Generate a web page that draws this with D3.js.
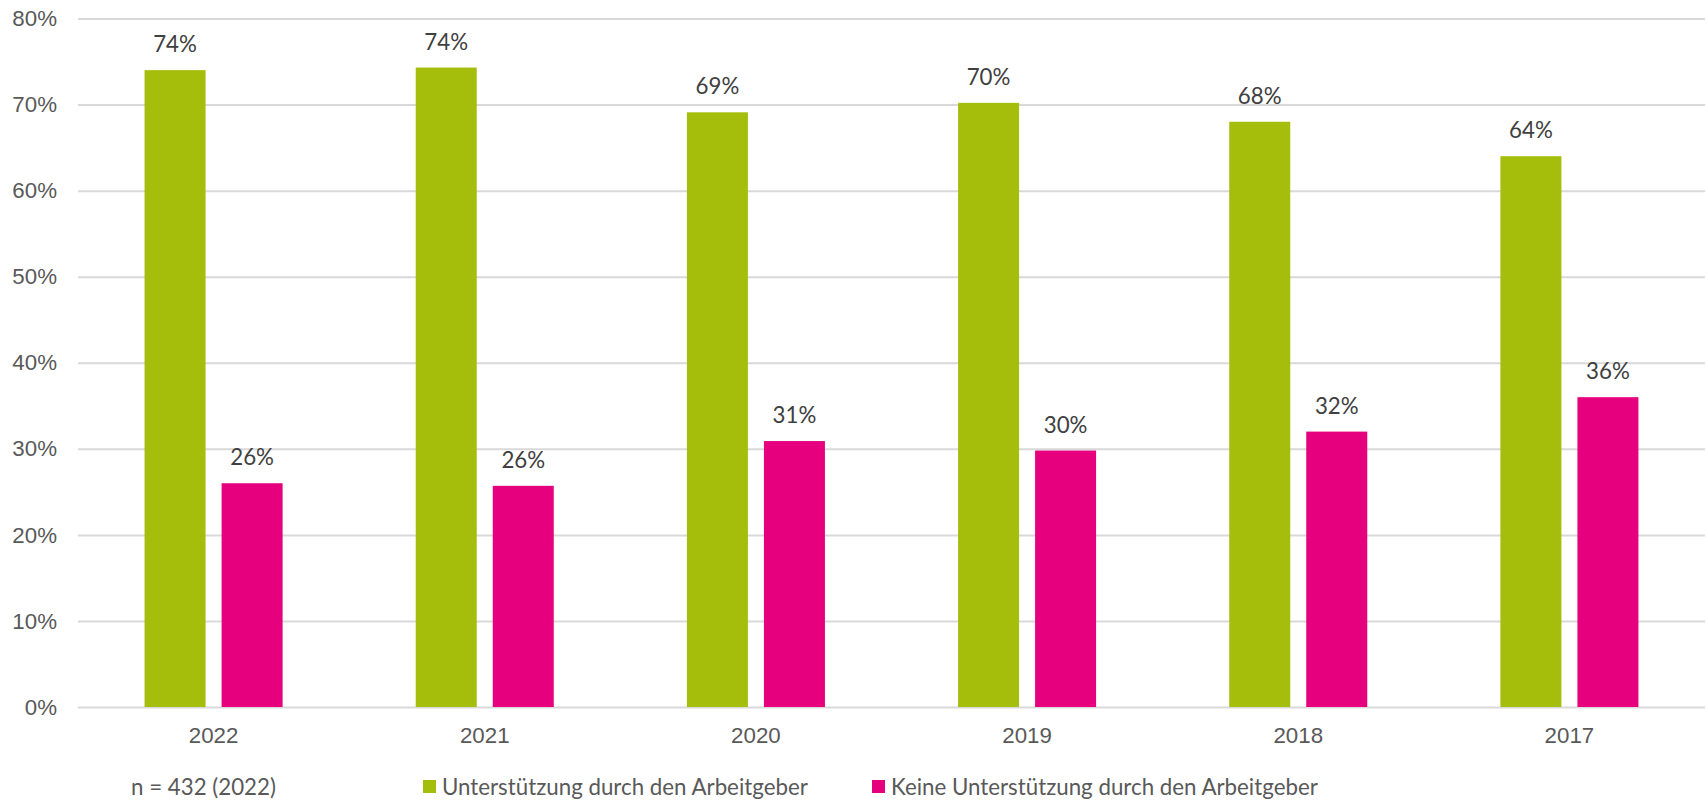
<!DOCTYPE html>
<html lang="de">
<head>
<meta charset="utf-8">
<script src="https://cdn.jsdelivr.net/npm/d3@7"></script>
<style>
  html, body { margin: 0; padding: 0; background: #fff; }
  svg { display: block; font-family: Lato, "Open Sans", sans-serif; }
</style>
</head>
<body>
<svg id="chart" width="1708" height="803"></svg>
<script>
// Survey years and shares (fraction of respondents)
const years = ["2022", "2021", "2020", "2019", "2018", "2017"];
const seriesNames = ["Unterstützung durch den Arbeitgeber", "Keine Unterstützung durch den Arbeitgeber"];
const supportShare = [0.740, 0.743, 0.691, 0.702, 0.680, 0.640];
const noSupportShare = [0.260, 0.257, 0.309, 0.298, 0.320, 0.360];
const yTicks = [0, 0.1, 0.2, 0.3, 0.4, 0.5, 0.6, 0.7, 0.8];
const sampleNote = "n = 432 (2022)";
const seriesColors = ["#a5bd0b", "#e6007e"];

const width = 1708, height = 803;
const margin = { top: 18.5, right: 3, bottom: 96, left: 78 };
const fontSize = "22.3px";
const svg = d3.select("#chart");

const x0 = d3.scaleBand()
  .domain(years)
  .range([margin.left, width - margin.right])
  .padding(0);

const step = x0.step();
const groupW = step * 0.509;
const x1 = d3.scaleBand()
  .domain(seriesNames)
  .range([(step - groupW) / 2, (step + groupW) / 2])
  .paddingInner(0.208)
  .paddingOuter(0);

const y = d3.scaleLinear()
  .domain([0, 0.8])
  .range([height - margin.bottom, margin.top]);

// Horizontal grid lines
const yAxis = d3.axisLeft(y)
  .tickValues(yTicks)
  .tickFormat(d3.format(".0%"))
  .tickSize(-(width - margin.left - margin.right))
  .tickPadding(21);

const gy = svg.append("g")
  .attr("transform", `translate(${margin.left},0)`)
  .call(yAxis);
gy.select(".domain").remove();
gy.selectAll(".tick line").attr("stroke", "#d9d9d9").attr("stroke-width", 2);
gy.selectAll(".tick text")
  .attr("fill", "#595959")
  .style("font-size", fontSize);

// Category axis labels
const xAxis = d3.axisBottom(x0).tickSize(0).tickPadding(20);
const gx = svg.append("g")
  .attr("transform", `translate(0,${height - margin.bottom})`)
  .call(xAxis);
gx.select(".domain").remove();
gx.selectAll(".tick text")
  .attr("fill", "#595959")
  .style("font-size", fontSize);

// Bars
const rows = years.map((yr, i) => ({
  year: yr,
  values: [
    { key: seriesNames[0], value: supportShare[i], color: seriesColors[0] },
    { key: seriesNames[1], value: noSupportShare[i], color: seriesColors[1] }
  ]
}));

const groups = svg.append("g")
  .selectAll("g")
  .data(rows)
  .join("g")
  .attr("transform", d => `translate(${x0(d.year)},0)`);

groups.selectAll("rect")
  .data(d => d.values)
  .join("rect")
  .attr("x", d => x1(d.key))
  .attr("width", x1.bandwidth())
  .attr("y", d => y(d.value))
  .attr("height", d => y(0) - y(d.value))
  .attr("fill", d => d.color);

// Value labels above bars
groups.selectAll("text.value")
  .data(d => d.values)
  .join("text")
  .attr("class", "value")
  .attr("x", d => x1(d.key) + x1.bandwidth() / 2)
  .attr("y", d => y(d.value) - 18)
  .attr("text-anchor", "middle")
  .attr("fill", "#404040")
  .style("font-size", fontSize)
  .text(d => d3.format(".0%")(d.value));

// Footer: sample size and legend
const footY = 795;
svg.append("text")
  .attr("x", 131)
  .attr("y", footY)
  .attr("fill", "#595959")
  .style("font-size", fontSize)
  .text(sampleNote);

const legendX = [423, 872];
const legend = svg.append("g")
  .selectAll("g")
  .data(seriesNames)
  .join("g")
  .attr("transform", (d, i) => `translate(${legendX[i]},${footY})`);

legend.append("rect")
  .attr("x", 0)
  .attr("y", -15)
  .attr("width", 13)
  .attr("height", 13)
  .attr("fill", (d, i) => seriesColors[i]);

legend.append("text")
  .attr("x", 19)
  .attr("y", 0)
  .attr("fill", "#595959")
  .style("font-size", fontSize)
  .text(d => d);
</script>
</body>
</html>
